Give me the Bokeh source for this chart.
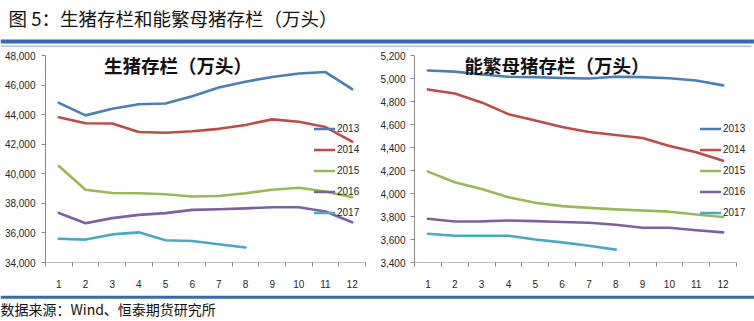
from bokeh.plotting import figure
from bokeh.models import (Range1d, FixedTicker, NumeralTickFormatter, Legend, LegendItem,
                          Label, BoxAnnotation)
from bokeh.layouts import column, row
from bokeh.embed import file_html
from bokeh.resources import INLINE

# ---------------- data ----------------
months = list(range(1, 13))
years = ["2013", "2014", "2015", "2016", "2017"]
colors = ["#4A7EBB", "#BE4B48", "#98B954", "#7D60A0", "#46AAC5"]

# 生猪存栏（万头）
hog_2013 = [44800, 43950, 44400, 44700, 44750, 45250, 45830, 46230, 46550, 46780, 46880, 45720]
hog_2014 = [43820, 43420, 43400, 42830, 42780, 42880, 43040, 43300, 43680, 43520, 43160, 42180]
hog_2015 = [40520, 38920, 38700, 38680, 38620, 38460, 38500, 38680, 38920, 39060, 38800, 38420]
hog_2016 = [37350, 36650, 37000, 37220, 37340, 37560, 37600, 37660, 37740, 37740, 37450, 36720]
hog_2017 = [35610, 35550, 35900, 36040, 35500, 35450, 35230, 35010]

# 能繁母猪存栏（万头）
sow_2013 = [5070, 5060, 5035, 5015, 5012, 5005, 5000, 5015, 5012, 5002, 4982, 4940]
sow_2014 = [4905, 4870, 4792, 4690, 4635, 4578, 4535, 4508, 4482, 4414, 4358, 4285]
sow_2015 = [4190, 4098, 4040, 3968, 3920, 3890, 3875, 3862, 3852, 3842, 3818, 3796]
sow_2016 = [3780, 3757, 3758, 3765, 3760, 3752, 3745, 3728, 3702, 3702, 3680, 3662]
sow_2017 = [3650, 3632, 3632, 3632, 3600, 3575, 3545, 3512]

hog_series = [hog_2013, hog_2014, hog_2015, hog_2016, hog_2017]
sow_series = [sow_2013, sow_2014, sow_2015, sow_2016, sow_2017]

hog_ticks = list(range(34000, 48001, 2000))
sow_ticks = list(range(3400, 5201, 200))

title_text = "图 5：生猪存栏和能繁母猪存栏（万头）"
hog_title = "生猪存栏（万头）"
sow_title = "能繁母猪存栏（万头）"
source_text = "数据来源：Wind、恒泰期货研究所"

CJK = "Noto Sans CJK SC"
LAT = "Liberation Sans"
AXIS_GRAY = "#868686"
TEXT_DARK = "#262626"
BAND_BLUE = "#2E6DB4"
LIGHT_BLUE = "#A9C3E1"


def bare_figure(w, h, x0, x1, y0, y1):
    f = figure(width=w, height=h, output_backend="svg", toolbar_location=None,
               x_range=Range1d(x0, x1), y_range=Range1d(y0, y1),
               min_border=0, min_border_left=0, min_border_right=0,
               min_border_top=0, min_border_bottom=0)
    f.axis.visible = False
    f.grid.visible = False
    f.outline_line_color = None
    f.background_fill_color = "white"
    f.border_fill_color = "white"
    return f


# ---------------- header ----------------
header = bare_figure(754, 47, 0, 754, 47, 0)
header.add_layout(BoxAnnotation(left=0, right=754, top=39, bottom=43,
                                fill_color=BAND_BLUE, fill_alpha=1, line_color=None))
header.add_layout(BoxAnnotation(left=0, right=751, top=45, bottom=46.6,
                                fill_color=LIGHT_BLUE, fill_alpha=1, line_color=None))
header.add_layout(Label(x=8, y=17, text=title_text, text_font=CJK, text_font_size="18.5px",
                        text_color="#111111", text_align="left", text_baseline="middle"))


# ---------------- charts ----------------
def make_chart(series, ymin, ymax, ticks, title, title_x, title_y,
               w, border_left, border_right, x_end, legend_loc, label_standoff):
    p = figure(width=w, height=248, output_backend="svg", toolbar_location=None,
               x_range=Range1d(0.5, x_end), y_range=Range1d(ymin, ymax),
               min_border_left=border_left, min_border_right=border_right,
               min_border_top=8, min_border_bottom=33)
    p.grid.visible = False
    p.outline_line_color = None
    p.background_fill_color = "white"
    p.border_fill_color = "white"

    renderers = []
    for yr, col, vals in zip(years, colors, series):
        r = p.line(months[:len(vals)], vals, line_color=col, line_width=2.6,
                   line_join="round", line_cap="round")
        renderers.append((yr, r))

    # y axis
    ya = p.yaxis[0]
    ya.ticker = FixedTicker(ticks=ticks)
    ya.formatter = NumeralTickFormatter(format="0,0")
    ya.axis_line_color = AXIS_GRAY
    ya.major_tick_line_color = AXIS_GRAY
    ya.major_tick_out = 4
    ya.major_tick_in = 0
    ya.minor_tick_line_color = None
    ya.major_label_standoff = label_standoff
    ya.major_label_text_font = LAT
    ya.major_label_text_font_size = "10px"
    ya.major_label_text_color = TEXT_DARK

    # x axis (category style: ticks between months, line only across the 12 months)
    xa = p.xaxis[0]
    xa.ticker = FixedTicker(ticks=months, minor_ticks=[m - 0.5 for m in months] + [12.5])
    xa.axis_line_color = None
    xa.major_tick_line_color = None
    xa.major_tick_out = 0
    xa.major_tick_in = 0
    xa.minor_tick_line_color = AXIS_GRAY
    xa.minor_tick_out = 4
    xa.minor_tick_in = 0
    xa.major_label_standoff = 13
    xa.major_label_text_font = LAT
    xa.major_label_text_font_size = "10px"
    xa.major_label_text_color = TEXT_DARK
    p.segment(x0=[months[0] - 0.5], y0=[ymin], x1=[months[-1] + 0.5], y1=[ymin],
              line_color=AXIS_GRAY, line_width=1.2)

    # chart title
    p.add_layout(Label(x=title_x, y=title_y, text=title, text_font=CJK,
                       text_font_size="18.5px", text_font_style="bold",
                       text_color="#111111", text_align="center", text_baseline="middle"))

    legend = Legend(items=[LegendItem(label=yr, renderers=[r]) for yr, r in renderers],
                    location=legend_loc, orientation="vertical",
                    background_fill_alpha=0, border_line_alpha=0,
                    padding=0, margin=0, spacing=0,
                    glyph_width=21, glyph_height=21, label_height=21,
                    label_standoff=2, label_text_font=LAT, label_text_font_size="10px",
                    label_text_color=TEXT_DARK)
    p.add_layout(legend, "center")
    return p


left = make_chart(hog_series, 34000, 48000, hog_ticks, hog_title, 5.47, 47330,
                  377, 45, 4, 12.5 + 8 / (320 / 12), (269, 39), 6)
right = make_chart(sow_series, 3400, 5200, sow_ticks, sow_title, 5.81, 5121,
                   377, 37, 4, 12.5 + 14 / (322 / 12), (286, 39), 5)

# ---------------- footer ----------------
footer = bare_figure(754, 26, 0, 754, 26, 0)
footer.add_layout(BoxAnnotation(left=0, right=754, top=0, bottom=3.3,
                                fill_color=BAND_BLUE, fill_alpha=1, line_color=None))
footer.add_layout(Label(x=0, y=13.5, text=source_text, text_font=CJK, text_font_size="14px",
                        text_color="#111111", text_align="left", text_baseline="middle"))

layout = column(header, row(left, right), footer)

open("out.html", "w").write(file_html(layout, INLINE))
